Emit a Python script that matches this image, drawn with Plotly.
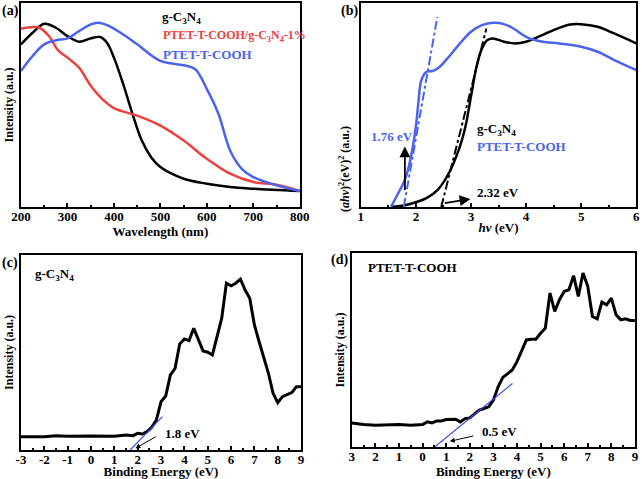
import plotly.graph_objects as go

FONT = "Liberation Serif"

# (a) UV-vis absorbance, wavelength in nm, intensity arbitrary
a_gcn_x = [200, 225, 250, 275, 300, 325, 350, 370, 385, 400, 420, 440, 460, 480, 500, 550, 600, 650, 700, 800]
a_gcn_y = [490, 525, 552, 540, 515, 498, 508, 512, 495, 450, 370, 280, 200, 150, 120, 85, 70, 60, 55, 48]
a_comp_x = [200, 225, 240, 260, 280, 300, 325, 350, 375, 400, 450, 500, 550, 600, 650, 700, 750, 800]
a_comp_y = [537, 542, 540, 515, 472, 450, 420, 365, 325, 298, 275, 245, 200, 145, 100, 75, 67, 48]
a_ptet_x = [200, 225, 250, 275, 300, 325, 350, 365, 390, 425, 450, 500, 550, 575, 600, 625, 650, 675, 700, 750, 800]
a_ptet_y = [410, 455, 490, 502, 508, 530, 550, 555, 545, 515, 490, 440, 427, 415, 355, 280, 170, 115, 90, 65, 48]

# (b) Tauc plot
b_gcn_x = [1.55, 1.8, 2.0, 2.2, 2.4, 2.6, 2.8, 2.9, 3.0, 3.1, 3.2, 3.3, 3.4, 3.6, 3.8, 4.0, 4.2, 4.5, 4.8, 5.0, 5.3, 5.6, 6.0]
b_gcn_y = [0, 5, 14, 27, 52, 102, 182, 242, 332, 422, 477, 502, 507, 497, 492, 497, 510, 532, 549, 550, 542, 522, 492]
b_ptet_x = [1.55, 1.65, 1.8, 1.9, 2.0, 2.05, 2.1, 2.2, 2.3, 2.4, 2.6, 2.8, 3.0, 3.2, 3.4, 3.6, 3.8, 4.0, 4.3, 4.6, 5.0, 5.3, 5.6, 6.0]
b_ptet_y = [0, 32, 82, 142, 242, 322, 382, 407, 409, 417, 452, 492, 527, 547, 554, 550, 534, 512, 497, 492, 482, 467, 442, 412]
b_fit_ptet_x = [1.78, 2.39]
b_fit_ptet_y = [0, 572]
b_fit_gcn_x = [2.46, 3.28]
b_fit_gcn_y = [0, 537]

# (c) VB-XPS g-C3N4
c_x = [-3, -2, -1.5, -1, 0, 1, 1.5, 1.8, 2.0, 2.2, 2.4, 2.6, 2.8, 3.0, 3.2, 3.4, 3.6, 3.8, 4.0, 4.2, 4.4,
       4.6, 4.8, 5.0, 5.2, 5.6, 5.8, 6.0, 6.2, 6.4, 6.6, 6.8, 7.0, 7.2, 7.6, 7.8, 8.0, 8.2, 8.4, 8.6, 8.8, 9.0]
c_y = [40, 40, 43, 41, 42, 41, 45, 43, 50, 48, 55, 68, 90, 145, 162, 225, 245, 318, 333, 328, 365,
       332, 297, 293, 285, 395, 500, 492, 500, 512, 480, 455, 375, 325, 230, 170, 142, 160, 165, 172, 190, 190]
c_fit_x = [1.68, 3.06]
c_fit_y = [0, 100]

# (d) VB-XPS PTET-T-COOH
d_x = [-3, -2.5, -2, -1, -0.5, 0, 0.2, 0.4, 0.6, 0.8, 1.0, 1.2, 1.4, 1.6, 1.8, 2.0, 2.2, 2.4, 2.6, 2.8,
       3.0, 3.2, 3.4, 3.6, 3.8, 4.0, 4.2, 4.4, 4.6, 4.8, 5.0, 5.2, 5.4, 5.6, 5.8, 6.0, 6.2, 6.4, 6.6,
       6.8, 7.0, 7.2, 7.4, 7.6, 7.8, 8.0, 8.2, 8.4, 8.6, 8.8, 9.0]
d_y = [72, 67, 65, 67, 65, 67, 75, 72, 78, 78, 82, 83, 83, 75, 85, 87, 100, 110, 115, 120,
       140, 180, 208, 218, 230, 255, 285, 320, 322, 322, 340, 355, 460, 405, 440, 465, 470, 512, 450,
       520, 480, 390, 383, 433, 425, 445, 395, 380, 383, 378, 378]
d_fit_x = [0.51, 3.81]
d_fit_y = [0, 190]

be_tickvals = [-3, -2, -1, 0, 1, 2, 3, 4, 5, 6, 7, 8, 9]
c_ticktext = ['-3', '-2', '-1', '0', '1', '2', '3', '4', '5', '6', '7', '8', '9']
d_ticktext = ['3', '2', '1', '0', '1', '2', '3', '4', '5', '6', '7', '8', '9']
be_minor = [-2.5, -1.5, -0.5, 0.5, 1.5, 2.5, 3.5, 4.5, 5.5, 6.5, 7.5, 8.5]

BLACK = '#000000'
RED = '#f0403c'
BLUE = '#4a63f0'
FIT = '#3a4fe0'

fig = go.Figure()
# (a)
fig.add_trace(go.Scatter(x=a_gcn_x, y=a_gcn_y, mode='lines', line=dict(color=BLACK, width=2.5, shape='spline'),
                         xaxis='x', yaxis='y'))
fig.add_trace(go.Scatter(x=a_comp_x, y=a_comp_y, mode='lines', line=dict(color=RED, width=2.5, shape='spline'),
                         xaxis='x', yaxis='y'))
fig.add_trace(go.Scatter(x=a_ptet_x, y=a_ptet_y, mode='lines', line=dict(color=BLUE, width=2.5, shape='spline'),
                         xaxis='x', yaxis='y'))
# (b)
fig.add_trace(go.Scatter(x=b_gcn_x, y=b_gcn_y, mode='lines', line=dict(color=BLACK, width=2.5, shape='spline'),
                         xaxis='x2', yaxis='y2'))
fig.add_trace(go.Scatter(x=b_ptet_x, y=b_ptet_y, mode='lines', line=dict(color=BLUE, width=2.5, shape='spline'),
                         xaxis='x2', yaxis='y2'))
fig.add_trace(go.Scatter(x=b_fit_ptet_x, y=b_fit_ptet_y, mode='lines', line=dict(color=BLUE, width=2, dash='dashdot'),
                         xaxis='x2', yaxis='y2'))
fig.add_trace(go.Scatter(x=b_fit_gcn_x, y=b_fit_gcn_y, mode='lines', line=dict(color=BLACK, width=2, dash='dashdot'),
                         xaxis='x2', yaxis='y2'))
# (c)
fig.add_trace(go.Scatter(x=c_x, y=c_y, mode='lines', line=dict(color=BLACK, width=3),
                         xaxis='x3', yaxis='y3'))
fig.add_trace(go.Scatter(x=c_fit_x, y=c_fit_y, mode='lines', line=dict(color=FIT, width=1.2),
                         xaxis='x3', yaxis='y3'))
# (d)
fig.add_trace(go.Scatter(x=d_x, y=d_y, mode='lines', line=dict(color=BLACK, width=3),
                         xaxis='x4', yaxis='y4'))
fig.add_trace(go.Scatter(x=d_fit_x, y=d_fit_y, mode='lines', line=dict(color=FIT, width=1.2),
                         xaxis='x4', yaxis='y4'))

tickfont = dict(family=FONT, size=13, color='black', weight='bold')
titlefont = dict(family=FONT, size=13, color='black', weight='bold')


def xax(domain, rng, anchor, title, dtick, minor_dtick):
    return dict(domain=domain, range=rng, anchor=anchor, showline=True, linecolor='black', linewidth=1.5,
                mirror=True, ticks='inside', ticklen=4, tickwidth=1.5, tickcolor='black', dtick=dtick,
                minor=dict(ticks='inside', ticklen=2, tickwidth=1.5, tickcolor='black', dtick=minor_dtick),
                showgrid=False, zeroline=False, tickfont=tickfont, automargin=False, ticklabelstandoff=-3,
                title=dict(text=title, font=titlefont, standoff=0))


def yax(domain, rng, anchor, title):
    return dict(domain=domain, range=rng, anchor=anchor, showline=True, linecolor='black', linewidth=1.5,
                mirror=True, ticks='', showticklabels=False, showgrid=False, zeroline=False, automargin=False,
                title=dict(text=title, font=dict(family=FONT, size=12, color='black', weight='bold'), standoff=3))


xa3 = xax([0.0327, 0.469], [-3, 9], 'y3', 'Binding Energy (eV)', 1, 0.5)
xa3.update(tickmode='array', tickvals=be_tickvals, ticktext=c_ticktext)
xa3['minor'] = dict(ticks='inside', ticklen=2, tickwidth=1.5, tickcolor='black', tickvals=be_minor)
xa4 = xax([0.548, 0.989], [-3, 9], 'y4', 'Binding Energy (eV)', 1, 0.5)
xa4.update(tickmode='array', tickvals=be_tickvals, ticktext=d_ticktext)
xa4['minor'] = dict(ticks='inside', ticklen=2, tickwidth=1.5, tickcolor='black', tickvals=be_minor)

fig.update_layout(
    width=642, height=479, margin=dict(l=0, r=0, t=0, b=0, autoexpand=False),
    paper_bgcolor='white', plot_bgcolor='white', showlegend=False,
    font=dict(family=FONT, color='black'),
    xaxis=xax([0.0327, 0.467], [200, 800], 'y', 'Wavelength (nm)', 100, 50),
    yaxis=yax([0.568, 0.994], [0, 615], 'x', 'Intensity (a.u.)'),
    xaxis2=xax([0.562, 0.991], [1, 6], 'y2', '<i>hv</i> (eV)', 1, 0.5),
    yaxis2=yax([0.568, 0.994], [0, 614], 'x2', ''),
    xaxis3=xa3,
    yaxis3=yax([0.0605, 0.468], [0, 585], 'x3', 'Intensity (a.u.)'),
    xaxis4=xa4,
    yaxis4=yax([0.0668, 0.472], [0, 580], 'x4', 'Intensity (a.u.)'),
)

bold13 = dict(family=FONT, size=13, weight='bold')
ann = []
# panel letters
for txt, px, py in [('(a)', 0.0, 0.998), ('(b)', 0.528, 0.998), ('(c)', 0.0, 0.472), ('(d)', 0.513, 0.478)]:
    ann.append(dict(text=txt, x=px, y=py, xref='paper', yref='paper', xanchor='left', yanchor='top',
                    showarrow=False, font=dict(family=FONT, size=14, color='black', weight='bold')))
# (b) y title sits a bit below the panel centre
ann.append(dict(text='(<i>ahv</i>)<sup>2</sup>(eV)<sup>2</sup> (a.u.)', x=345 / 642, y=1 - 124 / 479,
                xref='paper', yref='paper', textangle=-90, showarrow=False,
                font=dict(family=FONT, size=12, color='black', weight='bold')))
# (a) labels
ann += [
    dict(text='g-C<sub>3</sub>N<sub>4</sub>', x=499, y=572, xref='x', yref='y', xanchor='left', showarrow=False,
         font=dict(bold13, color=BLACK)),
    dict(text='PTET-T-COOH/g-C<sub>3</sub>N<sub>4</sub>-1%', x=501, y=515, xref='x', yref='y', xanchor='left',
         showarrow=False, font=dict(family=FONT, size=12, weight='bold', color=RED)),
    dict(text='PTET-T-COOH', x=501, y=460, xref='x', yref='y', xanchor='left', showarrow=False,
         font=dict(bold13, color=BLUE)),
]
# (b) labels and arrows
ann += [
    dict(text='g-C<sub>3</sub>N<sub>4</sub>', x=3.08, y=232, xref='x2', yref='y2', xanchor='left', showarrow=False,
         font=dict(bold13, color=BLACK)),
    dict(text='PTET-T-COOH', x=3.08, y=182, xref='x2', yref='y2', xanchor='left', showarrow=False,
         font=dict(bold13, color=BLUE)),
    dict(text='1.76 eV', x=1.57, y=212, xref='x2', yref='y2', showarrow=False, font=dict(bold13, color=BLUE)),
    dict(text='2.32 eV', x=3.08, y=42, xref='x2', yref='y2', xanchor='left', showarrow=False,
         font=dict(bold13, color=BLACK)),
    dict(text=' ', x=1.8, y=182, ax=1.8, ay=25, xref='x2', yref='y2', axref='x2', ayref='y2',
         showarrow=True, arrowhead=2, arrowsize=1.2, arrowwidth=1.8, arrowcolor='black'),
    dict(text=' ', x=2.99, y=24, ax=2.47, ay=10, xref='x2', yref='y2', axref='x2', ayref='y2',
         showarrow=True, arrowhead=2, arrowsize=1.2, arrowwidth=1.8, arrowcolor='black'),
]
# (c)
ann += [
    dict(text='g-C<sub>3</sub>N<sub>4</sub>', x=-2.5, y=525, xref='x3', yref='y3', xanchor='left', showarrow=False,
         font=dict(bold13, color=BLACK)),
    dict(text='1.8 eV', x=3.1, y=50, xref='x3', yref='y3', xanchor='left', showarrow=False,
         font=dict(bold13, color=BLACK)),
    dict(text=' ', x=1.9, y=5, ax=2.9, ay=45, xref='x3', yref='y3', axref='x3', ayref='y3',
         showarrow=True, arrowhead=2, arrowsize=1, arrowwidth=1, arrowcolor='black'),
]
# (d)
ann += [
    dict(text='PTET-T-COOH', x=-2.4, y=535, xref='x4', yref='y4', xanchor='left', showarrow=False,
         font=dict(bold13, color=BLACK)),
    dict(text='0.5 eV', x=2.45, y=45, xref='x4', yref='y4', xanchor='left', showarrow=False,
         font=dict(bold13, color=BLACK)),
    dict(text=' ', x=1.15, y=17, ax=2.28, ay=35, xref='x4', yref='y4', axref='x4', ayref='y4',
         showarrow=True, arrowhead=2, arrowsize=1, arrowwidth=1, arrowcolor='black'),
]
fig.update_layout(annotations=ann)

# page body has a default 8px margin, drop it so the figure fills the window
fig.write_html("out.html", config={'displayModeBar': False},
               post_script="document.body.style.margin='0';")
